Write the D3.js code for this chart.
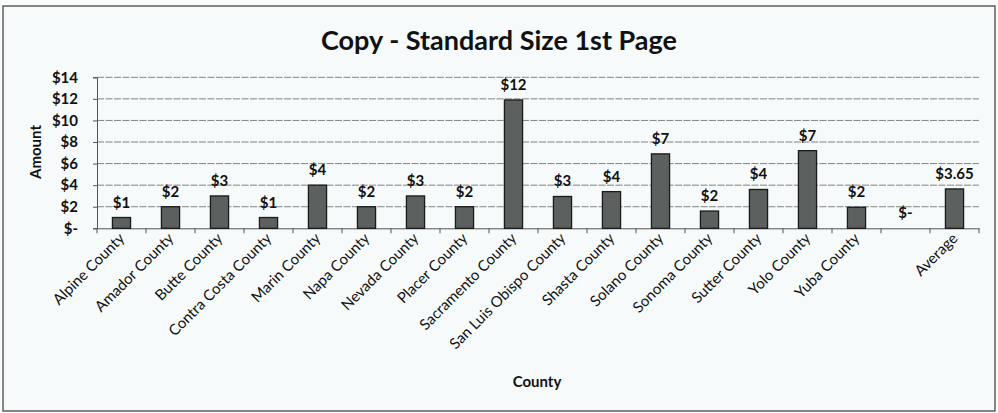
<!DOCTYPE html>
<html><head><meta charset="utf-8">
<script src="https://cdn.jsdelivr.net/npm/d3@7"></script>
<style>body{margin:0;background:#fafcfc;}svg{display:block;font-family:Lato,"Open Sans",sans-serif;}</style>
</head><body>
<svg id="c" width="998" height="413"></svg>
<script>
const categories = ["Alpine County","Amador County","Butte County","Contra Costa County","Marin County","Napa County","Nevada County","Placer County","Sacramento County","San Luis Obispo County","Shasta County","Solano County","Sonoma County","Sutter County","Yolo County","Yuba County","","Average"];
const values = [1,2,3,1,4,2,3,2,11.9,2.95,3.4,6.9,1.6,3.6,7.2,1.95,0,3.65];
const valueLabels = ["$1","$2","$3","$1","$4","$2","$3","$2","$12","$3","$4","$7","$2","$4","$7","$2","$-","$3.65"];
const yTicks = [0,2,4,6,8,10,12,14];
const yTickLabels = ["$-","$2","$4","$6","$8","$10","$12","$14"];

(function(){
const svg = d3.select("#c");
svg.append("rect").attr("x",3).attr("y",6).attr("width",992).attr("height",405)
  .attr("fill","#f6fafa").attr("stroke","#555").attr("stroke-width",1.4);

const pL=97, pR=979, pT=77.3, pB=228.3;
const x = d3.scaleBand().domain(d3.range(categories.length)).range([pL,pR]).paddingInner(0.63).paddingOuter(0.315);
const y = d3.scaleLinear().domain([0,14]).range([pB,pT]);

svg.append("text").attr("x",499).attr("y",50).attr("text-anchor","middle")
  .attr("font-size",27).attr("font-weight","bold").attr("fill","#111").text("Copy - Standard Size 1st Page");

// gridlines
svg.append("g").selectAll("line").data(yTicks.slice(1)).join("line")
  .attr("x1",pL).attr("x2",pR).attr("y1",d=>y(d)).attr("y2",d=>y(d))
  .attr("stroke","#777").attr("stroke-width",0.9).attr("stroke-dasharray","7,1.5");

// y axis
const ya = svg.append("g").attr("transform",`translate(${pL},0)`)
  .call(d3.axisLeft(y).tickValues(yTicks).tickFormat((d,i)=>yTickLabels[i]).tickSize(4).tickPadding(15));
ya.select(".domain").attr("stroke","#555");
ya.selectAll(".tick line").attr("stroke","#555");
ya.selectAll("text").attr("font-size",15).attr("font-weight","bold").attr("fill","#111").attr("font-family","Lato,sans-serif");

// x axis
const xa = svg.append("g").attr("transform",`translate(0,${pB})`)
  .call(d3.axisBottom(x).tickFormat(i=>categories[i]).tickSize(0).tickPadding(0));
xa.select(".domain").attr("stroke","#555");
xa.selectAll(".tick text").attr("font-size",15).attr("font-family","Lato,sans-serif").attr("fill","#111")
  .attr("text-anchor","end").attr("dy",0).attr("transform","translate(4,11) rotate(-45)");
const step = x.step();
svg.append("g").selectAll("line").data(d3.range(categories.length+1)).join("line")
  .attr("x1",i=>pL+i*step).attr("x2",i=>pL+i*step).attr("y1",pB).attr("y2",pB+5)
  .attr("stroke","#555");

// bars
svg.append("g").selectAll("rect").data(values).join("rect")
  .attr("x",(d,i)=>x(i)).attr("width",x.bandwidth())
  .attr("y",d=>y(d)).attr("height",d=>y(0)-y(d))
  .attr("fill","#5c605f").attr("stroke","#1a1a1a").attr("stroke-width",1.3);

// value labels
svg.append("g").selectAll("text").data(values).join("text")
  .attr("x",(d,i)=>x(i)+x.bandwidth()/2).attr("y",d=>y(d)-10)
  .attr("text-anchor","middle").attr("font-size",15).attr("font-weight","bold").attr("fill","#111")
  .text((d,i)=>valueLabels[i]);

svg.append("text").attr("transform","translate(41,152) rotate(-90)").attr("text-anchor","middle")
  .attr("font-size",15).attr("font-weight","bold").attr("fill","#111").text("Amount");
svg.append("text").attr("x",537).attr("y",387).attr("text-anchor","middle")
  .attr("font-size",15).attr("font-weight","bold").attr("fill","#111").text("County");
})();
</script>
</body></html>
